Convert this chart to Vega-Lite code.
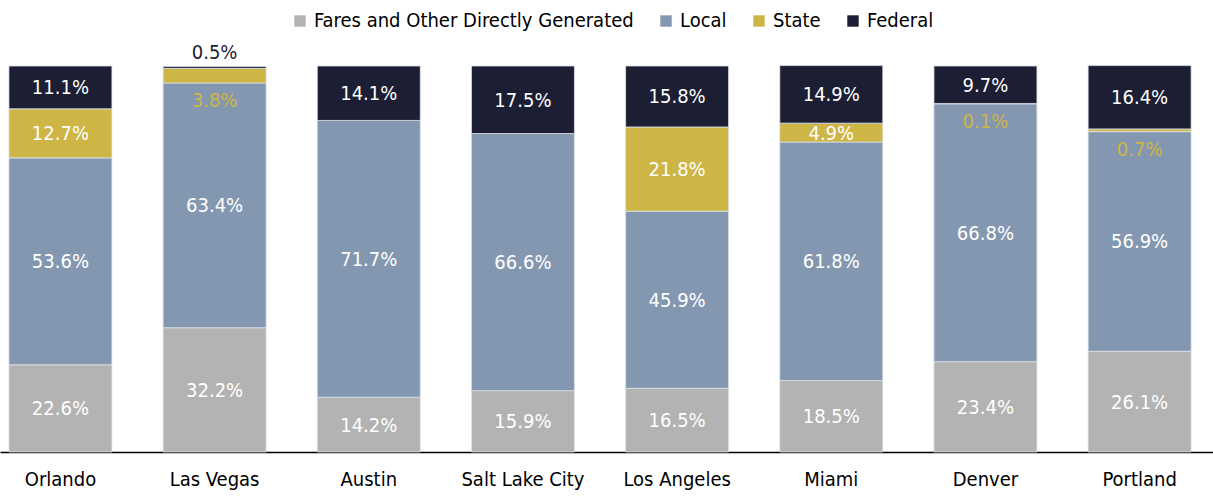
{
  "$schema": "https://vega.github.io/schema/vega-lite/v6.json",
  "width": 1213,
  "height": 386,
  "autosize": "none",
  "padding": {"left": 0, "top": 66, "right": 0, "bottom": 44},
  "background": "white",
  "config": {
    "view": {"stroke": null},
    "font": "Liberation Sans Narrow, DejaVu Sans Condensed, sans-serif"
  },
  "data": {
    "values": [
      {"city": "Orlando", "source": "Fares and Other Directly Generated", "value": 22.6},
      {"city": "Orlando", "source": "Local", "value": 53.6},
      {"city": "Orlando", "source": "State", "value": 12.7},
      {"city": "Orlando", "source": "Federal", "value": 11.1},
      {"city": "Las Vegas", "source": "Fares and Other Directly Generated", "value": 32.2},
      {"city": "Las Vegas", "source": "Local", "value": 63.4},
      {"city": "Las Vegas", "source": "State", "value": 3.8},
      {"city": "Las Vegas", "source": "Federal", "value": 0.5},
      {"city": "Austin", "source": "Fares and Other Directly Generated", "value": 14.2},
      {"city": "Austin", "source": "Local", "value": 71.7},
      {"city": "Austin", "source": "Federal", "value": 14.1},
      {"city": "Salt Lake City", "source": "Fares and Other Directly Generated", "value": 15.9},
      {"city": "Salt Lake City", "source": "Local", "value": 66.6},
      {"city": "Salt Lake City", "source": "Federal", "value": 17.5},
      {"city": "Los Angeles", "source": "Fares and Other Directly Generated", "value": 16.5},
      {"city": "Los Angeles", "source": "Local", "value": 45.9},
      {"city": "Los Angeles", "source": "State", "value": 21.8},
      {"city": "Los Angeles", "source": "Federal", "value": 15.8},
      {"city": "Miami", "source": "Fares and Other Directly Generated", "value": 18.5},
      {"city": "Miami", "source": "Local", "value": 61.8},
      {"city": "Miami", "source": "State", "value": 4.9},
      {"city": "Miami", "source": "Federal", "value": 14.9},
      {"city": "Denver", "source": "Fares and Other Directly Generated", "value": 23.4},
      {"city": "Denver", "source": "Local", "value": 66.8},
      {"city": "Denver", "source": "State", "value": 0.1},
      {"city": "Denver", "source": "Federal", "value": 9.7},
      {"city": "Portland", "source": "Fares and Other Directly Generated", "value": 26.1},
      {"city": "Portland", "source": "Local", "value": 56.9},
      {"city": "Portland", "source": "State", "value": 0.7},
      {"city": "Portland", "source": "Federal", "value": 16.4}
    ]
  },
  "transform": [
    {"calculate": "indexof(['Fares and Other Directly Generated','Local','State','Federal'], datum.source)", "as": "ord"},
    {"stack": "value", "groupby": ["city"], "sort": [{"field": "ord", "order": "ascending"}], "as": ["y0", "y1"]},
    {"calculate": "(datum.y0 + datum.y1) / 2", "as": "ymid"},
    {"calculate": "format(datum.value, '.1f') + '%'", "as": "label"}
  ],
  "encoding": {
    "x": {
      "field": "city",
      "type": "nominal",
      "sort": ["Orlando", "Las Vegas", "Austin", "Salt Lake City", "Los Angeles", "Miami", "Denver", "Portland"],
      "scale": {"paddingInner": 0.332, "paddingOuter": 0.1, "align": 0.29},
      "axis": {
        "title": null,
        "labelAngle": 0,
        "labelFontSize": 20,
        "labelColor": "#000000",
        "labelPadding": 17,
        "ticks": false,
        "domainColor": "#000000",
        "domainWidth": 1.5,
        "grid": false
      }
    }
  },
  "layer": [
    {
      "mark": {"type": "bar", "stroke": "#dde1e8", "strokeWidth": 0.8},
      "encoding": {
        "y": {"field": "y0", "type": "quantitative", "scale": {"domain": [0, 100], "nice": false, "zero": true}, "axis": null},
        "y2": {"field": "y1"},
        "color": {
          "field": "source",
          "type": "nominal",
          "scale": {
            "domain": ["Fares and Other Directly Generated", "Local", "State", "Federal"],
            "range": ["#B3B3B3", "#8497B0", "#CDB546", "#1C1E33"]
          },
          "legend": {
            "title": null,
            "orient": "none",
            "legendX": 290,
            "legendY": -55,
            "direction": "horizontal",
            "symbolType": "square",
            "symbolSize": 130,
            "symbolStrokeWidth": 0,
            "labelFontSize": 20,
            "labelColor": "#000000",
            "labelLimit": 500,
            "columnPadding": 22,
            "labelOffset": 4
          }
        }
      }
    },
    {
      "transform": [{"filter": "datum.value >= 4.5"}],
      "mark": {"type": "text", "fontSize": 20, "color": "#ffffff", "baseline": "middle", "dy": 1},
      "encoding": {
        "y": {"field": "ymid", "type": "quantitative"},
        "text": {"field": "label"}
      }
    },
    {
      "transform": [{"filter": "datum.source == 'State' && datum.value < 4.5"}],
      "mark": {"type": "text", "fontSize": 20, "color": "#CDB546", "baseline": "middle", "dy": 18},
      "encoding": {
        "y": {"field": "y0", "type": "quantitative"},
        "text": {"field": "label"}
      }
    },
    {
      "transform": [{"filter": "datum.source == 'Federal' && datum.value < 4.5"}],
      "mark": {"type": "text", "fontSize": 20, "color": "#1C1E33", "baseline": "middle", "dy": -13},
      "encoding": {
        "y": {"field": "y1", "type": "quantitative"},
        "text": {"field": "label"}
      }
    }
  ]
}
